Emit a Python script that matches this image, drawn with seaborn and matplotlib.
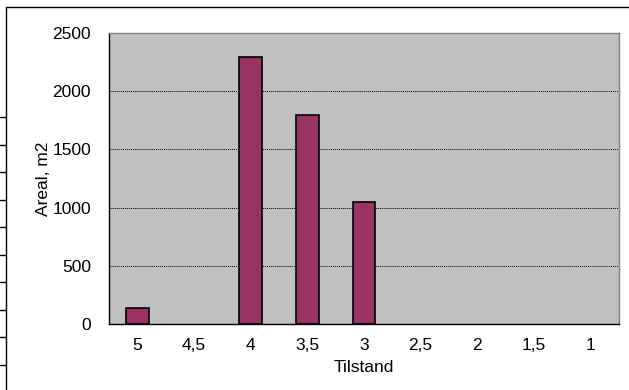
import matplotlib
matplotlib.use("Agg")
import matplotlib.pyplot as plt
import seaborn as sns
import numpy as np
import pandas as pd
from matplotlib.lines import Line2D

tilstand = ["5", "4,5", "4", "3,5", "3", "2,5", "2", "1,5", "1"]
areal = [140, np.nan, 2290, 1795, 1048, np.nan, np.nan, np.nan, np.nan]
y_ticks = [0, 500, 1000, 1500, 2000, 2500]

sns.set_style("white", {"text.color": "black", "axes.labelcolor": "black",
                        "xtick.color": "black", "ytick.color": "black"})
plt.rcParams['font.family'] = ['Liberation Sans', 'DejaVu Sans']

data = pd.DataFrame({"Tilstand": tilstand, "Areal": areal})

fig = plt.figure(figsize=(6.29, 3.90), dpi=100)
ax = fig.add_axes([109/629, 1 - 324/390, (619 - 109)/629, (324 - 33)/390])
ax.set_facecolor("#C0C0C0")

sns.barplot(data=data, x="Tilstand", y="Areal", order=tilstand, color="#993366",
            width=0.4, edgecolor="black", linewidth=1.2, saturation=1, ax=ax)

ax.set_ylim(0, 2500)
ax.set_xlim(-0.5, len(tilstand) - 0.5)
ax.set_yticks(y_ticks)
ax.set_yticklabels([str(v) for v in y_ticks], fontsize=12.5)
ax.yaxis.grid(True, color="black", linestyle=(0, (1, 1)), linewidth=0.7)
ax.set_axisbelow(True)

# category ticks sit between bars, labels centred under bars
ax.set_xticks([i + 0.5 for i in range(-1, len(tilstand))], minor=False)
ax.set_xticklabels([])
ax.set_xticks(range(len(tilstand)), minor=True)
ax.set_xticklabels(tilstand, minor=True, fontsize=12.5)
ax.tick_params(axis="x", which="major", direction="out", length=4, width=0.8, color="black")
ax.tick_params(axis="x", which="minor", length=0, pad=10)
ax.tick_params(axis="y", direction="out", length=4, width=0.8, color="black", pad=9)

for side in ["left", "bottom"]:
    ax.spines[side].set_color("black")
    ax.spines[side].set_linewidth(1.0)
for side in ["top", "right"]:
    ax.spines[side].set_color("#808080")
    ax.spines[side].set_linewidth(1.0)
    ax.spines[side].set_visible(True)

ax.set_xlabel("Tilstand", fontsize=12.5, labelpad=5)
ax.set_ylabel("Areal, m2", fontsize=12.5, labelpad=1)

# outer chart border and the table lines at the left edge
fig.add_artist(Line2D([6/629, 6/629], [0, 1 - 7/390], color="black", linewidth=1.0))
fig.add_artist(Line2D([6/629, 1], [1 - 7/390, 1 - 7/390], color="black", linewidth=1.0))
for yy in [117, 145, 172, 200, 227, 255, 282, 310, 337, 365]:
    fig.add_artist(Line2D([0, 6/629], [1 - yy/390, 1 - yy/390], color="black", linewidth=1.0))

fig.savefig("out.png", dpi=100)
